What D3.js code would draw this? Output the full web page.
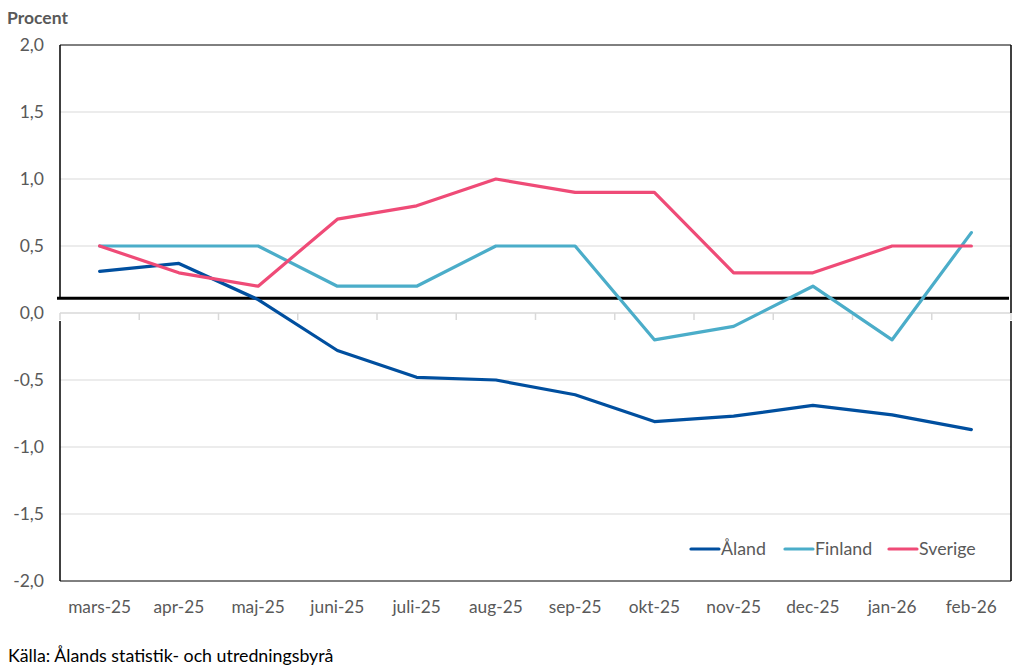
<!DOCTYPE html>
<html><head><meta charset="utf-8">
<script src="https://cdn.jsdelivr.net/npm/d3@7"></script>
<style>body{margin:0;background:#fff;} text{font-family:Lato,"Open Sans",sans-serif;}</style>
</head><body>
<svg id="c" width="1024" height="668"></svg>
<script>
const categories = ["mars-25","apr-25","maj-25","juni-25","juli-25","aug-25","sep-25","okt-25","nov-25","dec-25","jan-26","feb-26"];
const aland   = [0.31,0.37,0.10,-0.28,-0.48,-0.50,-0.61,-0.81,-0.77,-0.69,-0.76,-0.87];
const finland = [0.5,0.5,0.5,0.2,0.2,0.5,0.5,-0.2,-0.1,0.2,-0.2,0.6];
const sverige = [0.5,0.3,0.2,0.7,0.8,1.0,0.9,0.9,0.3,0.3,0.5,0.5];
const yTicks = [-2,-1.5,-1,-0.5,0,0.5,1,1.5,2];
const refValue = 0.11;
const seriesNames = ["Åland","Finland","Sverige"];
const seriesColors = ["#004f9f","#4badc9","#ef4b77"];

const svg = d3.select("#c");
const L=60,R=1011,T=45,B=581;
const x = d3.scaleBand().domain(categories).range([L,R]);
const y = d3.scaleLinear().domain([-2,2]).range([B,T]);
const fmt = v => d3.format(".1f")(v).replace(".",",").replace("−","-");

// gridlines
svg.append("g").selectAll("line").data(yTicks.filter(v=>v!==-2&&v!==2&&v!==0)).join("line")
  .attr("x1",L).attr("x2",R).attr("y1",d=>y(d)).attr("y2",d=>y(d))
  .attr("stroke","#d9d9d9").attr("stroke-width",1);

// zero axis with ticks
svg.append("line").attr("x1",L).attr("x2",R).attr("y1",y(0)).attr("y2",y(0)).attr("stroke","#d9d9d9").attr("stroke-width",1.5);
const bounds = categories.map(c=>x(c)).concat([R]);
svg.append("g").selectAll("line").data(bounds).join("line")
  .attr("x1",d=>d).attr("x2",d=>d).attr("y1",y(0)).attr("y2",y(0)+7)
  .attr("stroke","#d9d9d9").attr("stroke-width",1.5);

// plot border (with gap around zero axis)
const bc="#000";
svg.append("line").attr("x1",L).attr("x2",R).attr("y1",T).attr("y2",T).attr("stroke",bc);
svg.append("line").attr("x1",L).attr("x2",R).attr("y1",B).attr("y2",B).attr("stroke",bc);
svg.append("line").attr("x1",L).attr("x2",L).attr("y1",T).attr("y2",y(refValue)).attr("stroke",bc).attr("stroke-width",1.5);
svg.append("line").attr("x1",L).attr("x2",L).attr("y1",y(0)+8).attr("y2",B).attr("stroke",bc).attr("stroke-width",1.5);
svg.append("line").attr("x1",R).attr("x2",R).attr("y1",T).attr("y2",y(0)).attr("stroke",bc).attr("stroke-width",1.5);
svg.append("line").attr("x1",R).attr("x2",R).attr("y1",y(0)+8).attr("y2",B).attr("stroke",bc).attr("stroke-width",1.5);

// y labels
svg.append("g").selectAll("text").data(yTicks).join("text")
  .attr("x",44).attr("y",d=>y(d)+6).attr("text-anchor","end")
  .attr("font-size",17.5).attr("fill","#595959").text(d=>fmt(d));

// x labels
svg.append("g").selectAll("text").data(categories).join("text")
  .attr("x",d=>x(d)+x.bandwidth()/2).attr("y",613).attr("text-anchor","middle")
  .attr("font-size",17.3).attr("fill","#595959").text(d=>d);

// reference line
svg.append("line").attr("x1",57).attr("x2",1009).attr("y1",y(refValue)).attr("y2",y(refValue))
  .attr("stroke","#000").attr("stroke-width",3);

// series
const line = d3.line().x((d,i)=>x(categories[i])+x.bandwidth()/2).y(d=>y(d));
[aland,finland,sverige].forEach((s,i)=>{
  svg.append("path").attr("d",line(s)).attr("fill","none")
    .attr("stroke",seriesColors[i]).attr("stroke-width",3.2)
    .attr("stroke-linejoin","round").attr("stroke-linecap","round");
});

// legend
const legX=[691,785,889];
seriesNames.forEach((n,i)=>{
  svg.append("line").attr("x1",legX[i]).attr("x2",legX[i]+28).attr("y1",549).attr("y2",549)
    .attr("stroke",seriesColors[i]).attr("stroke-width",3.2).attr("stroke-linecap","round");
  svg.append("text").attr("x",legX[i]+30).attr("y",555).attr("font-size",17.8).attr("fill","#595959").text(n);
});

// titles
svg.append("text").attr("x",7).attr("y",24).attr("font-size",17.5).attr("font-weight","bold").attr("fill","#595959").text("Procent");
svg.append("text").attr("x",8).attr("y",662).attr("font-size",17.8).attr("fill","#000").text("Källa: Ålands statistik- och utredningsbyrå");
</script>
</body></html>
